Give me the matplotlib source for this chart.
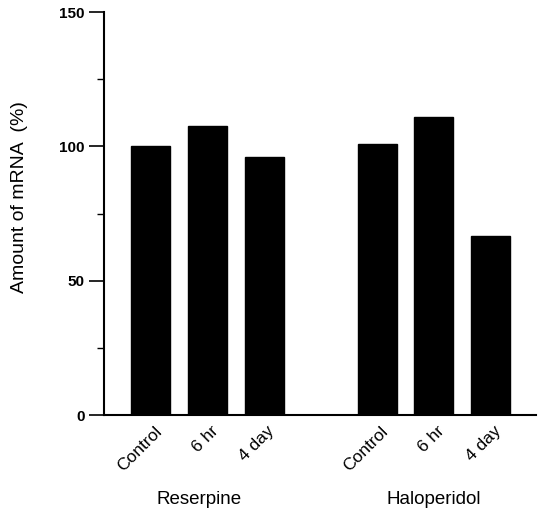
import matplotlib
matplotlib.use('Agg')
import matplotlib.pyplot as plt
from matplotlib.ticker import MultipleLocator
from matplotlib.transforms import ScaledTranslation

plt.rcParams['font.family'] = ['Liberation Sans', 'DejaVu Sans']

# data
groups = ['Reserpine', 'Haloperidol']
conditions = ['Control', '6 hr', '4 day']
reserpine = [100, 107.5, 96]
haloperidol = [101, 111, 66.5]

positions = [0, 1, 2, 4, 5, 6]
values = reserpine + haloperidol
labels = conditions + conditions

fig = plt.figure(figsize=(5.4, 5.14), dpi=100)
ax = fig.add_axes([0.1926, 0.1926, 0.80, 0.784])

ax.bar(positions, values, width=0.69, color='black', edgecolor='black')

ax.set_xlim(-0.83, 6.81)
ax.set_ylim(0, 150)
ax.yaxis.set_major_locator(MultipleLocator(50))
ax.yaxis.set_minor_locator(MultipleLocator(25))
ax.tick_params(axis='y', which='major', length=11, width=1.2, labelsize=11, pad=3)
ax.tick_params(axis='y', which='minor', length=5, width=1)
for t in ax.get_yticklabels():
    t.set_fontweight('bold')

ax.set_xticks(positions)
ax.set_xticklabels(labels, rotation=45, ha='right', rotation_mode='anchor', fontsize=12.5)
ax.tick_params(axis='x', length=0, pad=6)
shift = ScaledTranslation(3 / 100, 0, fig.dpi_scale_trans)
for t in ax.get_xticklabels():
    t.set_transform(t.get_transform() + shift)

for s in ['top', 'right']:
    ax.spines[s].set_visible(False)
ax.spines['left'].set_linewidth(1.5)
ax.spines['bottom'].set_linewidth(1.5)

ax.set_ylabel('Amount of mRNA  (%)', fontsize=14)
ax.yaxis.set_label_coords(-0.176, 0.541)

ax.text(0.85, -0.21, groups[0], transform=ax.get_xaxis_transform(), ha='center', va='center', fontsize=13.5)
ax.text(5.0, -0.21, groups[1], transform=ax.get_xaxis_transform(), ha='center', va='center', fontsize=13.5)

fig.savefig('out.png', dpi=100)
